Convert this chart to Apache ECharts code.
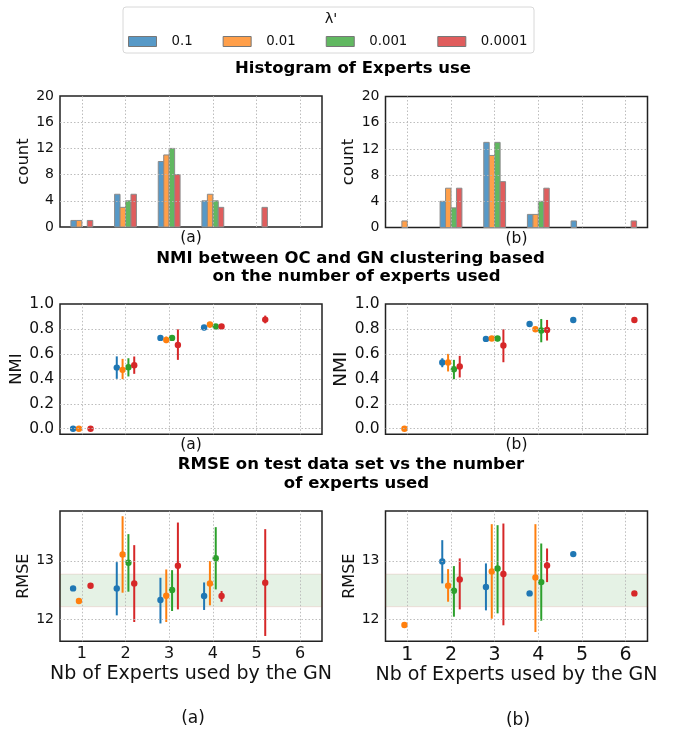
<!DOCTYPE html>
<html>
<head>
<meta charset="utf-8">
<script src="https://cdn.jsdelivr.net/npm/echarts@6.0.0/dist/echarts.min.js"></script>
<style>
  html, body { margin: 0; padding: 0; background: #fff; }
  #main { width: 673px; height: 734px; }
</style>
</head>
<body>
<div id="main"></div>
<script>
// λ' values (one series per value)
const lambdas = ['0.1', '0.01', '0.001', '0.0001'];
const experts = [1, 2, 3, 4, 5, 6];

// tick labels
const countTicks = [0, 4, 8, 12, 16, 20];
const nmiTicks = [0.0, 0.2, 0.4, 0.6, 0.8, 1.0];
const rmseTicks = [12, 13];

// histogram counts, one row per lambda, one column per nb of experts
const histA = [
  [1, 5, 10, 4, 0, 0],
  [1, 3, 11, 5, 0, 0],
  [0, 4, 12, 4, 0, 0],
  [1, 5, 8, 3, 3, 0],
];
const histB = [
  [0, 4, 13, 2, 1, 0],
  [1, 6, 11, 2, 0, 0],
  [0, 3, 13, 4, 0, 0],
  [0, 6, 7, 6, 0, 1],
];

// NMI mean / low / high (null = not used)
const nmiMeanA = [
  [0.0, 0.49, 0.728, 0.811, null, null],
  [0.0, 0.472, 0.712, 0.835, null, null],
  [null, 0.493, 0.728, 0.819, null, null],
  [0.0, 0.509, 0.672, 0.819, 0.875, null],
];
const nmiLowA = [
  [0.0, 0.40, 0.72, 0.79, null, null],
  [0.0, 0.397, 0.685, 0.811, null, null],
  [null, 0.419, 0.72, 0.81, null, null],
  [0.0, 0.44, 0.552, 0.81, 0.845, null],
];
const nmiHighA = [
  [0.0, 0.58, 0.735, 0.83, null, null],
  [0.0, 0.56, 0.739, 0.856, null, null],
  [null, 0.565, 0.735, 0.83, null, null],
  [0.0, 0.579, 0.797, 0.83, 0.907, null],
];
const nmiMeanB = [
  [null, 0.531, 0.72, 0.84, 0.872, null],
  [0.0, 0.531, 0.723, 0.797, null, null],
  [null, 0.477, 0.723, 0.787, null, null],
  [null, 0.499, 0.667, 0.792, null, 0.872],
];
const nmiLowB = [
  [null, 0.493, 0.71, 0.84, 0.872, null],
  [0.0, 0.459, 0.715, 0.797, null, null],
  [null, 0.397, 0.701, 0.693, null, null],
  [null, 0.411, 0.533, 0.707, null, 0.872],
];
const nmiHighB = [
  [null, 0.565, 0.73, 0.84, 0.872, null],
  [0.0, 0.6, 0.731, 0.797, null, null],
  [null, 0.552, 0.744, 0.88, null, null],
  [null, 0.584, 0.797, 0.872, null, 0.872],
];

// RMSE mean / low / high
const rmseMeanA = [
  [12.528, 12.528, 12.33, 12.398, null, null],
  [12.313, 13.108, 12.403, 12.614, null, null],
  [null, 12.966, 12.5, 13.045, null, null],
  [12.574, 12.614, 12.915, 12.398, 12.625, null],
];
const rmseLowA = [
  [12.528, 12.068, 11.93, 12.16, null, null],
  [12.313, 12.455, 11.955, 12.239, null, null],
  [null, 12.472, 12.142, 12.511, null, null],
  [12.574, 11.955, 12.17, 12.3, 11.716, null],
];
const rmseHighA = [
  [12.528, 12.977, 12.71, 12.63, null, null],
  [12.313, 13.761, 12.852, 12.994, null, null],
  [null, 13.455, 12.84, 13.574, null, null],
  [12.574, 13.267, 13.653, 12.483, 13.54, null],
];
const rmseMeanB = [
  [null, 12.989, 12.551, 12.443, 13.114, null],
  [11.903, 12.574, 12.818, 12.716, null, null],
  [null, 12.489, 12.869, 12.636, null, null],
  [null, 12.682, 12.773, 12.92, null, 12.443],
];
const rmseLowB = [
  [null, 12.614, 12.153, 12.443, 13.114, null],
  [11.903, 12.301, 12.011, 11.784, null, null],
  [null, 12.045, 12.102, 11.977, null, null],
  [null, 12.17, 11.898, 12.636, null, 12.443],
];
const rmseHighB = [
  [null, 13.352, 12.955, 12.443, 13.114, null],
  [11.903, 12.858, 13.625, 13.625, null, null],
  [null, 12.909, 13.608, 13.295, null, null],
  [null, 13.04, 13.636, 13.21, null, 12.443],
];

// reference band on the RMSE plots
const rmseBand = [12.215, 12.773];

const FONT = 'DejaVu Sans';
const COLORS = ['#1f77b4', '#ff7f0e', '#2ca02c', '#d62728'];
const BAR_COLORS = ['#5799c7', '#ff9f4a', '#61b861', '#e05d5d'];
const BAR_W = 0.125;
const PT_STEP = 0.1333;

const chart = echarts.init(document.getElementById('main'), null, { renderer: 'canvas' });

const gridRects = [
  { left: 60, top: 96, width: 262, height: 131 },
  { left: 385.5, top: 96.5, width: 262, height: 131 },
  { left: 60, top: 304, width: 262, height: 130.3 },
  { left: 385.5, top: 304, width: 262, height: 130.3 },
  { left: 60, top: 511, width: 262, height: 130.3 },
  { left: 385.5, top: 511, width: 262, height: 130.3 },
];

const grids = gridRects.map((g) => ({
  ...g,
  show: true,
  borderColor: '#222',
  borderWidth: 1.5,
  backgroundColor: 'transparent',
}));

function xAxis(idx, name, withLabels, big) {
  return {
    type: 'value',
    gridIndex: idx,
    min: 0.5,
    max: 6.5,
    axisLine: { show: false },
    axisTick: { show: false },
    splitLine: { show: false },
    axisLabel: {
      show: withLabels,
      customValues: experts,
      margin: big ? 4 : 5,
      fontSize: big ? 19 : 16,
      color: '#111',
      fontFamily: FONT,
    },
    name: name,
    nameLocation: 'middle',
    nameGap: withLabels ? 23 : 3,
    nameTextStyle: {
      fontSize: withLabels ? 19 : 15.5,
      color: '#111',
      fontFamily: FONT,
      verticalAlign: 'top',
    },
  };
}

function yAxis(idx, opts) {
  return {
    type: 'value',
    gridIndex: idx,
    min: opts.min,
    max: opts.max,
    axisLine: { show: false },
    axisTick: { show: false },
    splitLine: { show: false },
    axisLabel: {
      customValues: opts.ticks,
      margin: 6,
      fontSize: opts.labelSize,
      color: '#111',
      fontFamily: FONT,
      formatter: opts.formatter,
    },
    name: opts.name,
    nameLocation: 'middle',
    nameRotate: 90,
    nameGap: opts.nameGap,
    nameTextStyle: { fontSize: opts.nameSize, color: '#111', fontFamily: FONT },
  };
}

const intFmt = (v) => String(Math.round(v));
const nmiFmt = (v) => v.toFixed(1);

const xAxes = [
  xAxis(0, '(a)', false),
  xAxis(1, '(b)', false),
  xAxis(2, '(a)', false),
  xAxis(3, '(b)', false),
  xAxis(4, 'Nb of Experts used by the GN', true, false),
  xAxis(5, 'Nb of Experts used by the GN', true, true),
];

const yAxes = [
  yAxis(0, { min: 0, max: 20, ticks: countTicks, labelSize: 14, formatter: intFmt, name: 'count', nameGap: 28, nameSize: 16.5 }),
  yAxis(1, { min: 0, max: 20, ticks: countTicks, labelSize: 14, formatter: intFmt, name: 'count', nameGap: 28, nameSize: 16.5 }),
  yAxis(2, { min: -0.045, max: 1.0, ticks: nmiTicks, labelSize: 15.5, formatter: nmiFmt, name: 'NMI', nameGap: 28, nameSize: 16.5 }),
  yAxis(3, { min: -0.045, max: 1.0, ticks: nmiTicks, labelSize: 15.5, formatter: nmiFmt, name: 'NMI', nameGap: 29, nameSize: 18.5 }),
  yAxis(4, { min: 11.625, max: 13.85, ticks: rmseTicks, labelSize: 14, formatter: intFmt, name: 'RMSE', nameGap: 26, nameSize: 16 }),
  yAxis(5, { min: 11.625, max: 13.85, ticks: rmseTicks, labelSize: 14, formatter: intFmt, name: 'RMSE', nameGap: 26, nameSize: 16 }),
];

// dotted grid lines at the tick values (not on the frame), drawn through the axes
function gridLines(axisIdx, yTicks) {
  const yr = [yAxes[axisIdx].min, yAxes[axisIdx].max];
  return {
    type: 'line',
    name: 'grid',
    xAxisIndex: axisIdx,
    yAxisIndex: axisIdx,
    data: [],
    silent: true,
    markLine: {
      silent: true,
      symbol: ['none', 'none'],
      label: { show: false },
      lineStyle: { color: '#b5b5b5', type: [1.5, 2], width: 0.9 },
      data: [
        ...experts.map((v) => ({ xAxis: v })),
        ...yTicks.filter((v) => v > yr[0] && v < yr[1]).map((v) => ({ yAxis: v })),
      ],
    },
  };
}

function histSeries(counts, axisIdx) {
  return counts.map((row, i) => ({
    type: 'custom',
    name: lambdas[i],
    xAxisIndex: axisIdx,
    yAxisIndex: axisIdx,
    itemStyle: { color: BAR_COLORS[i] },
    z: 3,
    data: experts.map((e, k) => [e + (i - 1.5) * BAR_W, row[k]]).filter((d) => d[1] > 0),
    renderItem: (params, api) => {
      const x = api.value(0);
      const a = api.coord([x - BAR_W / 2, api.value(1)]);
      const b = api.coord([x + BAR_W / 2, 0]);
      return {
        type: 'rect',
        shape: { x: a[0], y: a[1], width: b[0] - a[0], height: b[1] - a[1] },
        style: { fill: BAR_COLORS[i], stroke: '#8a8a8a', lineWidth: 1 },
      };
    },
  }));
}

function errSeries(mean, low, high, axisIdx) {
  return mean.map((row, i) => ({
    type: 'custom',
    name: lambdas[i],
    xAxisIndex: axisIdx,
    yAxisIndex: axisIdx,
    itemStyle: { color: COLORS[i] },
    z: 3,
    data: experts
      .map((e, k) => [e + (i - 1.5) * PT_STEP, row[k], low[i][k], high[i][k]])
      .filter((d) => d[1] !== null),
    renderItem: (params, api) => {
      const x = api.value(0);
      const p = api.coord([x, api.value(1)]);
      const lo = api.coord([x, api.value(2)]);
      const hi = api.coord([x, api.value(3)]);
      return {
        type: 'group',
        children: [
          {
            type: 'line',
            shape: { x1: lo[0], y1: lo[1], x2: hi[0], y2: hi[1] },
            style: { stroke: COLORS[i], lineWidth: 2 },
          },
          { type: 'circle', shape: { cx: p[0], cy: p[1], r: 3.2 }, style: { fill: COLORS[i] } },
        ],
      };
    },
  }));
}

function bandSeries(axisIdx) {
  return {
    type: 'line',
    name: 'band',
    xAxisIndex: axisIdx,
    yAxisIndex: axisIdx,
    data: [],
    silent: true,
    markArea: {
      silent: true,
      itemStyle: { color: 'rgba(0,128,0,0.1)', borderColor: 'rgba(214,39,40,0.12)', borderWidth: 1 },
      data: [[{ yAxis: rmseBand[0] }, { yAxis: rmseBand[1] }]],
    },
  };
}

const titleStyle = { fontSize: 16.5, fontWeight: 'bold', color: '#000', fontFamily: FONT };
const titleAt = (text, x, y) => ({ text, left: x, top: y, textAlign: 'center', padding: 0, textStyle: titleStyle });
const plainStyle = { fontSize: 17, fontWeight: 'normal', color: '#111', fontFamily: FONT };

const option = {
  animation: false,
  backgroundColor: '#fff',
  title: [
    { text: "λ'", left: 331, top: 12, textAlign: 'center', padding: 0, textStyle: { ...plainStyle, fontSize: 14.5 } },
    titleAt('Histogram of Experts use', 353, 60),
    titleAt('NMI between OC and GN clustering based', 350.5, 250),
    titleAt('on the number of experts used', 356.5, 268),
    titleAt('RMSE on test data set vs the number', 351, 456.5),
    titleAt('of experts used', 356.5, 475.5),
    { text: '(a)', left: 193, top: 710, textAlign: 'center', padding: 0, textStyle: plainStyle },
    { text: '(b)', left: 518, top: 712, textAlign: 'center', padding: 0, textStyle: plainStyle },
  ],
  legend: {
    left: 128,
    top: 35,
    padding: 0,
    itemWidth: 28,
    itemHeight: 10,
    itemGap: 30,
    selectedMode: false,
    textStyle: { fontSize: 13.3, color: '#111', fontFamily: FONT, padding: [0, 0, 0, 10] },
    data: lambdas.map((l, i) => ({
      name: l,
      icon: 'rect',
      itemStyle: { color: BAR_COLORS[i], borderColor: '#777', borderWidth: 1 },
    })),
  },
  graphic: [
    {
      type: 'rect',
      shape: { x: 123, y: 7, width: 411, height: 46, r: 3 },
      style: { fill: 'rgba(255,255,255,0.8)', stroke: '#d8d8d8', lineWidth: 1 },
      z: -1,
    },
  ],
  grid: grids,
  xAxis: xAxes,
  yAxis: yAxes,
  series: [
    gridLines(0, countTicks),
    gridLines(1, countTicks),
    gridLines(2, nmiTicks),
    gridLines(3, nmiTicks),
    bandSeries(4),
    bandSeries(5),
    gridLines(4, rmseTicks),
    gridLines(5, rmseTicks),
    ...histSeries(histA, 0),
    ...histSeries(histB, 1),
    ...errSeries(nmiMeanA, nmiLowA, nmiHighA, 2),
    ...errSeries(nmiMeanB, nmiLowB, nmiHighB, 3),
    ...errSeries(rmseMeanA, rmseLowA, rmseHighA, 4),
    ...errSeries(rmseMeanB, rmseLowB, rmseHighB, 5),
  ],
};

chart.setOption(option);
</script>
</body>
</html>
